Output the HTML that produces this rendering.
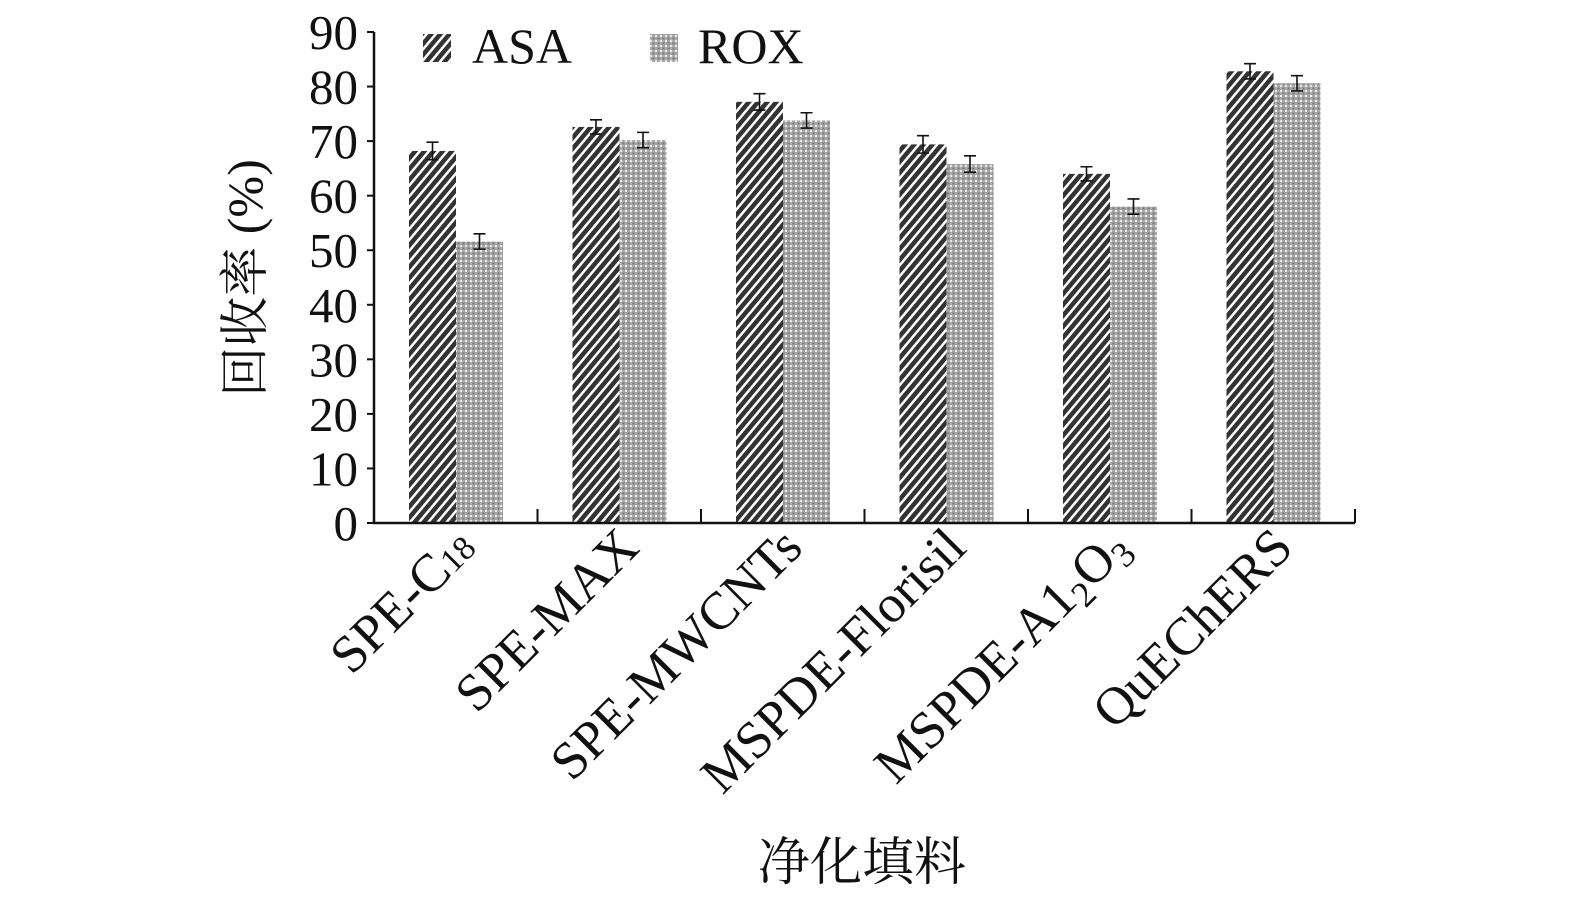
<!DOCTYPE html>
<html><head><meta charset="utf-8"><style>
body{margin:0;background:#fff}
svg{display:block}
text{font-family:"Liberation Serif","Noto Serif CJK SC",serif;fill:#111}
</style></head><body>
<svg id="chart" width="1575" height="902">
<defs>
<pattern id="pA" width="7" height="7" patternUnits="userSpaceOnUse" patternTransform="rotate(40)">
<rect width="7" height="7" fill="#fff"/><rect width="4.5" height="7" fill="#333"/></pattern>
<pattern id="pR" width="5" height="5" patternUnits="userSpaceOnUse">
<rect width="5" height="5" fill="#aaa"/><rect width="2" height="2" fill="#e6e6e6"/><rect x="2.5" y="2.5" width="2" height="2" fill="#777"/></pattern>
</defs>
<g id="plot"></g>
</svg>
<script>
const categories=["SPE-C18","SPE-MAX","SPE-MWCNTs","MSPDE-Florisil","MSPDE-A12O3","QuEChERS"];
const asaValues=[68.2,72.6,77.2,69.4,64.0,82.8];
const asaErrors=[1.6,1.3,1.5,1.6,1.3,1.4];
const roxValues=[51.6,70.2,73.8,65.8,58.0,80.6];
const roxErrors=[1.4,1.4,1.4,1.5,1.4,1.4];
const yTicks=[0,10,20,30,40,50,60,70,80,90];
const NS="http://www.w3.org/2000/svg";
const g=document.getElementById('plot');
const x0=374,x1=1355,y0=523,yTop=32;
const yMax=90;
const cw=(x1-x0)/categories.length;
function y(v){return y0-(v/yMax)*(y0-yTop);}
function xc(i){return x0+i*cw;}
function mk(t,a,p){const e=document.createElementNS(NS,t);for(const k in a)e.setAttribute(k,a[k]);(p||g).appendChild(e);return e;}
function drawSeries(vals,errs,off,fill,name){
 vals.forEach((v,i)=>{
  const bx=xc(i)+off,w=47;
  const r=mk('rect',{x:bx,y:y(v),width:w,height:y0-y(v),fill:fill});
  
  
  const cx=bx+w/2,e=errs[i];
  const eb=mk('path',{d:`M${cx-6},${y(v+e)}H${cx+6}M${cx},${y(v+e)}V${y(v-e)}M${cx-6},${y(v-e)}H${cx+6}`,stroke:'#111','stroke-width':1.6,fill:'none'});
  
  
 });
}
drawSeries(asaValues,asaErrors,35,'url(#pA)','asa');
drawSeries(roxValues,roxErrors,82,'url(#pR)','rox');
const ax=mk('path',{d:`M${x0},${yTop}V${y0}H${x1}`,stroke:'#111','stroke-width':2.5,fill:'none'});


yTicks.forEach(t=>{
 mk('line',{x1:x0-7,x2:x0,y1:y(t),y2:y(t),stroke:'#111','stroke-width':2});
 const tl=mk('text',{x:x0-16,y:y(t)+17,'text-anchor':'end','font-size':49});
 tl.textContent=t;
 
 
});
for(let i=1;i<=categories.length;i++){mk('line',{x1:xc(i),x2:xc(i),y1:y0,y2:y0-14,stroke:'#111','stroke-width':2});}
categories.forEach((c,i)=>{
 const cx=xc(i)+cw/2+22,cy=550;
 const t=mk('text',{x:cx,y:cy,'text-anchor':'end','font-size':53,transform:`rotate(-45 ${cx} ${cy})`});
 
 
 if(c==="SPE-C18"){t.innerHTML='SPE-C<tspan font-size="34">18</tspan>';}
 else if(c==="MSPDE-A12O3"){t.innerHTML='MSPDE-A1<tspan font-size="36" dy="9">2</tspan><tspan dy="-9">O</tspan><tspan font-size="36" dy="9">3</tspan>';}
 else t.textContent=c;
});
const yt=mk('text',{x:262,y:278,'text-anchor':'middle','font-size':50,transform:'rotate(-90 262 278)'});
yt.textContent='回收率 (%)';


const xt=mk('text',{x:862,y:880,'text-anchor':'middle','font-size':52});
xt.textContent='净化填料';


const l1=mk('rect',{x:423,y:34,width:28,height:28,fill:'url(#pA)'});


const lt1=mk('text',{x:472,y:63,'font-size':50});lt1.textContent='ASA';


const l2=mk('rect',{x:650,y:34,width:28,height:28,fill:'url(#pR)'});


const lt2=mk('text',{x:698,y:63,'font-size':50});lt2.textContent='ROX';


</script>
</body></html>
